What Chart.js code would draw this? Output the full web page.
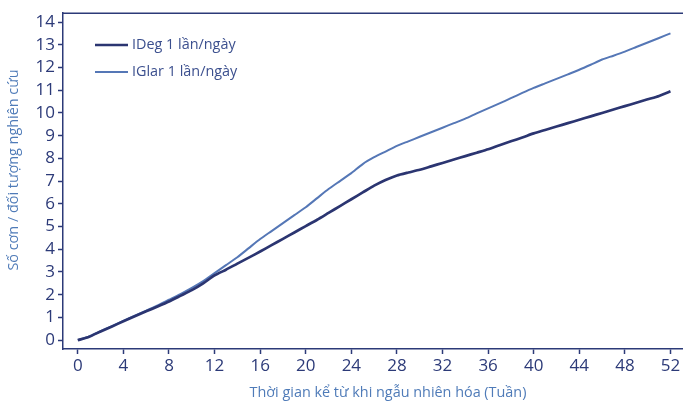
<!DOCTYPE html>
<html>
<head>
<meta charset="utf-8">
<script src="https://cdn.jsdelivr.net/npm/chart.js@4/dist/chart.umd.min.js"></script>
<style>
  html, body { margin: 0; padding: 0; background: #ffffff; }
  #wrap { width: 683px; height: 408px; position: relative; }
</style>
</head>
<body>
<div id="wrap"><canvas id="c" width="683" height="408"></canvas></div>
<script>
// Weeks since randomisation
const weeks = [0,1,2,3,4,5,6,7,8,9,10,11,12,13,14,15,16,17,18,19,20,21,22,23,24,25,26,
  27,28,29,30,31,32,33,34,35,36,37,38,39,40,41,42,43,44,45,46,47,48,49,50,51,52];

// Cumulative episodes per subject, IDeg once daily
const ideg = [0,0.15,0.38,0.6,0.83,1.05,1.27,1.48,1.7,1.95,2.2,2.5,2.85,3.1,3.37,3.63,3.9,
  4.18,4.46,4.74,5.02,5.3,5.6,5.9,6.2,6.5,6.8,7.05,7.25,7.38,7.5,7.65,7.8,7.95,8.1,8.25,
  8.4,8.58,8.75,8.92,9.1,9.25,9.4,9.55,9.7,9.85,10.0,10.15,10.3,10.45,10.6,10.75,10.95];

// Cumulative episodes per subject, IGlar once daily
const iglar = [0,0.16,0.4,0.62,0.85,1.08,1.3,1.53,1.78,2.03,2.3,2.6,2.95,3.3,3.65,4.05,4.45,
  4.8,5.15,5.5,5.85,6.25,6.65,7.0,7.35,7.75,8.05,8.3,8.55,8.75,8.95,9.15,9.35,9.55,9.75,9.98,
  10.2,10.42,10.65,10.88,11.1,11.3,11.5,11.7,11.9,12.12,12.35,12.52,12.7,12.9,13.1,13.3,13.5];

const seriesLabels = ['IDeg 1 lần/ngày', 'IGlar 1 lần/ngày'];
const xTicks = [0,4,8,12,16,20,24,28,32,36,40,44,48,52];
const yTicks = [0,1,2,3,4,5,6,7,8,9,10,11,12,13,14];
const xTitle = 'Thời gian kể từ khi ngẫu nhiên hóa (Tuần)';
const yTitle = 'Số cơn / đối tượng nghiên cứu';

const NAVY = '#2c3a78';
const DEG_COLOR = '#2b3571';
const GLAR_COLOR = '#5577b6';
const TITLE_COLOR = '#4f7bb8';
const FONT = '"Open Sans", "Noto Sans", sans-serif';

const toPoints = (ys) => weeks.map((w, i) => ({ x: w, y: ys[i] }));

// Frame line along the top, legend and axis titles
const decorations = {
  id: 'decorations',
  afterDraw(chart) {
    const { ctx, chartArea } = chart;
    ctx.save();
    // top frame line
    ctx.strokeStyle = NAVY;
    ctx.lineWidth = 1.5;
    ctx.beginPath();
    ctx.moveTo(chartArea.left, chartArea.top);
    ctx.lineTo(chartArea.right, chartArea.top);
    ctx.stroke();

    // legend
    const items = chart.data.datasets;
    const rows = [45, 72];
    items.forEach((ds, i) => {
      ctx.strokeStyle = ds.borderColor;
      ctx.lineWidth = ds.borderWidth;
      ctx.beginPath();
      ctx.moveTo(95, rows[i]);
      ctx.lineTo(128, rows[i]);
      ctx.stroke();
      ctx.fillStyle = '#3b4f8e';
      ctx.font = '14.4px ' + FONT;
      ctx.textBaseline = 'middle';
      ctx.textAlign = 'left';
      ctx.fillText(ds.label, 132, rows[i]);
    });

    // x axis title
    ctx.fillStyle = TITLE_COLOR;
    ctx.font = '14.4px ' + FONT;
    ctx.textAlign = 'center';
    ctx.textBaseline = 'middle';
    ctx.fillText(xTitle, 388, 393);

    // y axis title
    ctx.translate(14, 170);
    ctx.rotate(-Math.PI / 2);
    ctx.fillText(yTitle, 0, 0);
    ctx.restore();
  }
};

new Chart(document.getElementById('c'), {
  type: 'line',
  data: {
    datasets: [
      {
        label: seriesLabels[0],
        data: toPoints(ideg),
        borderColor: DEG_COLOR,
        borderWidth: 2.7,
        pointRadius: 0,
        tension: 0.2,
        fill: false
      },
      {
        label: seriesLabels[1],
        data: toPoints(iglar),
        borderColor: GLAR_COLOR,
        borderWidth: 2,
        pointRadius: 0,
        tension: 0.2,
        fill: false
      }
    ]
  },
  options: {
    responsive: false,
    animation: false,
    layout: { padding: { top: 7, right: 0, left: 0, bottom: 0 } },
    plugins: {
      legend: { display: false },
      tooltip: { enabled: false }
    },
    scales: {
      x: {
        type: 'linear',
        min: -1.3,
        max: 53.1,
        afterBuildTicks: (s) => { s.ticks = xTicks.map(v => ({ value: v })); },
        afterFit: (s) => { s.height = 59; },
        border: { color: NAVY, width: 1.5 },
        grid: { drawOnChartArea: false, tickLength: 5, tickColor: NAVY, tickWidth: 1.5 },
        ticks: {
          color: NAVY,
          font: { family: FONT, size: 17 },
          padding: 2,
          maxRotation: 0,
          autoSkip: false
        }
      },
      y: {
        type: 'linear',
        min: -0.39,
        max: 14.39,
        afterBuildTicks: (s) => { s.ticks = yTicks.map(v => ({ value: v })); },
        afterFit: (s) => { s.width = 63; },
        border: { color: NAVY, width: 1.5 },
        grid: { drawOnChartArea: false, tickLength: 5, tickColor: NAVY, tickWidth: 1.5 },
        ticks: {
          color: NAVY,
          font: { family: FONT, size: 17 },
          padding: 3,
          autoSkip: false
        }
      }
    }
  },
  plugins: [decorations]
});
</script>
</body>
</html>
